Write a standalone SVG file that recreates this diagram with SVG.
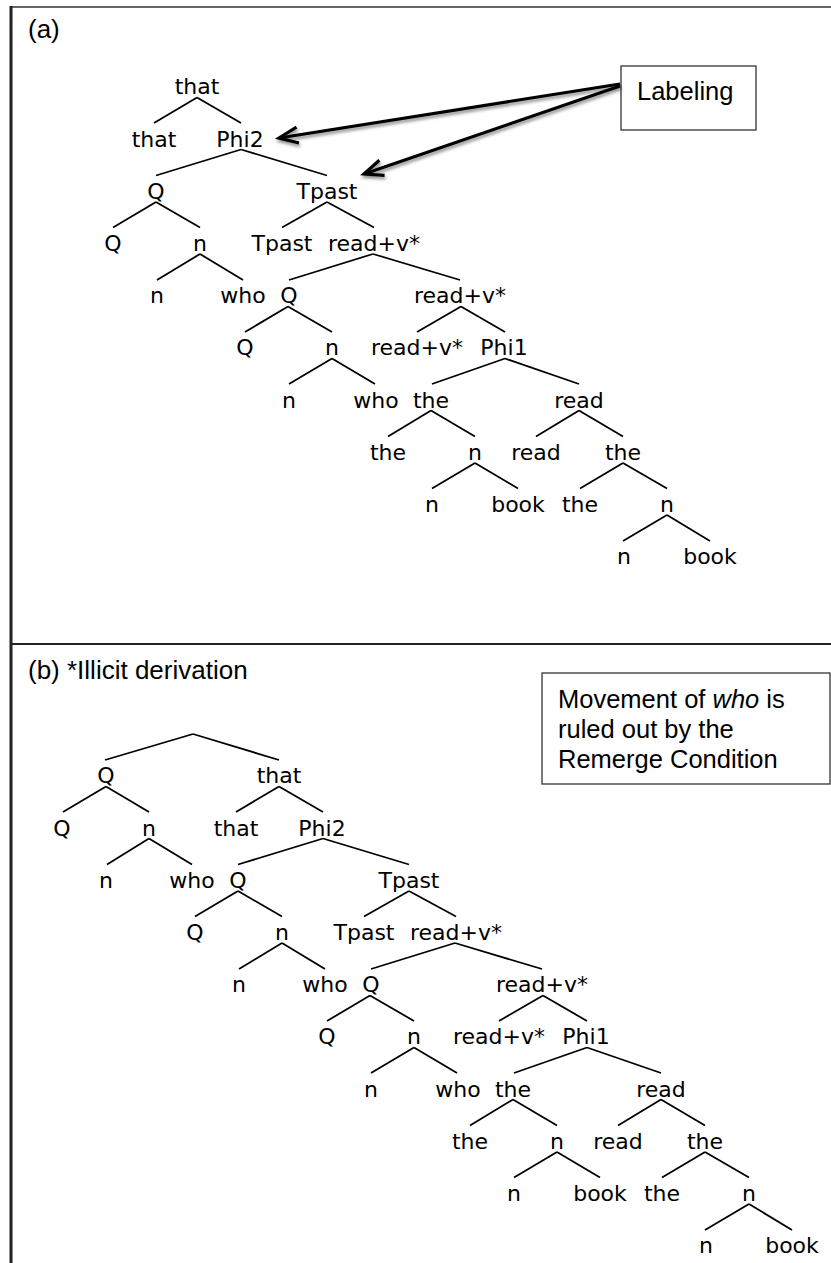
<svg xmlns="http://www.w3.org/2000/svg" width="831" height="1263" viewBox="0 0 831 1263">
<style>
.t{font-family:"DejaVu Sans",sans-serif;font-size:22px;text-anchor:middle;fill:#000}
.h{font-family:"Liberation Sans",Arial,sans-serif;font-size:26px;fill:#000}
.bx{font-family:"Liberation Sans",Arial,sans-serif;font-size:25.5px;fill:#000}
.e line{stroke:#000;stroke-width:1.8;fill:none}
.box{fill:#fff;stroke:#333;stroke-width:1.3}
.arr{stroke:#000;stroke-width:3;fill:none;marker-end:url(#ah)}
</style>
<defs>
<marker id="ah" markerUnits="userSpaceOnUse" markerWidth="40" markerHeight="40" viewBox="-30 -20 40 40" refX="0" refY="0" orient="auto" overflow="visible">
<path d="M-19,-8 L0,0 L-19,8" fill="none" stroke="#000" stroke-width="3.2"/>
</marker>
<filter id="sh" x="-10%" y="-30%" width="120%" height="160%">
<feDropShadow dx="1" dy="2.5" stdDeviation="1.5" flood-color="#000" flood-opacity="0.45"/>
</filter>
</defs>
<rect x="0" y="0" width="831" height="1263" fill="#fff"/>
<g id="frame">
<line x1="10" y1="7" x2="831" y2="7" stroke="#666" stroke-width="2"/>
<line x1="11" y1="6" x2="11" y2="1263" stroke="#222" stroke-width="3"/>
<line x1="11" y1="644" x2="831" y2="644" stroke="#222" stroke-width="2.2"/>
</g>
<text id="label-a" class="h" x="28" y="38">(a)</text>
<text id="label-b" class="h" x="28" y="679">(b) *Illicit derivation</text>

<g id="treeA">
<g id="treeA-edges" class="e">
<line x1="197" y1="97.5" x2="154" y2="123"/><line x1="197" y1="97.5" x2="241" y2="123"/>
<line x1="241" y1="149.5" x2="156" y2="175.5"/><line x1="241" y1="149.5" x2="327" y2="175.5"/>
<line x1="156" y1="202" x2="113" y2="227.5"/><line x1="156" y1="202" x2="200" y2="227.5"/>
<line x1="327" y1="202" x2="282" y2="227.5"/><line x1="327" y1="202" x2="374" y2="227.5"/>
<line x1="200" y1="254" x2="157" y2="280"/><line x1="200" y1="254" x2="243" y2="280"/>
<line x1="373" y1="254" x2="289" y2="280"/><line x1="373" y1="254" x2="460" y2="280"/>
<line x1="288" y1="306.5" x2="245" y2="332"/><line x1="288" y1="306.5" x2="332" y2="332"/>
<line x1="461" y1="306.5" x2="417" y2="332"/><line x1="461" y1="306.5" x2="505" y2="332"/>
<line x1="332" y1="358.5" x2="289" y2="384"/><line x1="332" y1="358.5" x2="375" y2="384"/>
<line x1="505" y1="358.5" x2="432" y2="384"/><line x1="505" y1="358.5" x2="579" y2="384"/>
<line x1="431" y1="410.5" x2="388" y2="436.5"/><line x1="431" y1="410.5" x2="475" y2="436.5"/>
<line x1="579" y1="410.5" x2="536" y2="436.5"/><line x1="579" y1="410.5" x2="623" y2="436.5"/>
<line x1="475" y1="463" x2="432" y2="488.5"/><line x1="475" y1="463" x2="518" y2="488.5"/>
<line x1="623" y1="463" x2="580" y2="488.5"/><line x1="623" y1="463" x2="667" y2="488.5"/>
<line x1="667" y1="515" x2="623" y2="541"/><line x1="667" y1="515" x2="710" y2="541"/>
</g>
<g id="a-n0"><text class="t" x="197" y="94">that</text></g>
<g id="a-n1"><text class="t" x="154" y="146.5">that</text></g>
<g id="a-n2"><text class="t" x="240" y="146.5">Phi2</text></g>
<g id="a-n3"><text class="t" x="156" y="198.5">Q</text></g>
<g id="a-n4"><text class="t" x="327" y="198.5">Tpast</text></g>
<g id="a-n5"><text class="t" x="113" y="250.5">Q</text></g>
<g id="a-n6"><text class="t" x="200" y="250.5">n</text></g>
<g id="a-n7"><text class="t" x="282" y="250.5">Tpast</text></g>
<g id="a-n8"><text class="t" x="374" y="250.5">read+v*</text></g>
<g id="a-n9"><text class="t" x="157" y="303">n</text></g>
<g id="a-n10"><text class="t" x="243" y="303">who</text></g>
<g id="a-n11"><text class="t" x="289" y="303">Q</text></g>
<g id="a-n12"><text class="t" x="460" y="303">read+v*</text></g>
<g id="a-n13"><text class="t" x="245" y="355">Q</text></g>
<g id="a-n14"><text class="t" x="332" y="355">n</text></g>
<g id="a-n15"><text class="t" x="417" y="355">read+v*</text></g>
<g id="a-n16"><text class="t" x="504" y="355">Phi1</text></g>
<g id="a-n17"><text class="t" x="289" y="407.5">n</text></g>
<g id="a-n18"><text class="t" x="376" y="407.5">who</text></g>
<g id="a-n19"><text class="t" x="431" y="407.5">the</text></g>
<g id="a-n20"><text class="t" x="579" y="407.5">read</text></g>
<g id="a-n21"><text class="t" x="388" y="459.5">the</text></g>
<g id="a-n22"><text class="t" x="475" y="459.5">n</text></g>
<g id="a-n23"><text class="t" x="536" y="459.5">read</text></g>
<g id="a-n24"><text class="t" x="623" y="459.5">the</text></g>
<g id="a-n25"><text class="t" x="432" y="511.5">n</text></g>
<g id="a-n26"><text class="t" x="518" y="511.5">book</text></g>
<g id="a-n27"><text class="t" x="580" y="511.5">the</text></g>
<g id="a-n28"><text class="t" x="667" y="511.5">n</text></g>
<g id="a-n29"><text class="t" x="624" y="564">n</text></g>
<g id="a-n30"><text class="t" x="710" y="564">book</text></g>
</g>

<g id="labeling">
<rect class="box" x="621" y="66" width="135" height="64"/>
<text class="bx" x="637" y="100">Labeling</text>
</g>
<g id="arrows" filter="url(#sh)">
<line class="arr" x1="620" y1="84" x2="279" y2="138"/>
<line class="arr" x1="620" y1="86" x2="364" y2="174"/>
</g>

<g id="treeB" transform="translate(82,689)">
<g id="treeB-edges" class="e">
<line x1="111" y1="45" x2="23" y2="71"/><line x1="111" y1="45" x2="197" y2="71"/>
<line x1="24" y1="97.5" x2="-19" y2="123"/><line x1="24" y1="97.5" x2="67" y2="123"/>
<line x1="67" y1="149.5" x2="25" y2="175.5"/><line x1="67" y1="149.5" x2="110" y2="175.5"/>
<line x1="197" y1="97.5" x2="154" y2="123"/><line x1="197" y1="97.5" x2="241" y2="123"/>
<line x1="241" y1="149.5" x2="156" y2="175.5"/><line x1="241" y1="149.5" x2="327" y2="175.5"/>
<line x1="156" y1="202" x2="113" y2="227.5"/><line x1="156" y1="202" x2="200" y2="227.5"/>
<line x1="327" y1="202" x2="282" y2="227.5"/><line x1="327" y1="202" x2="374" y2="227.5"/>
<line x1="200" y1="254" x2="157" y2="280"/><line x1="200" y1="254" x2="243" y2="280"/>
<line x1="373" y1="254" x2="289" y2="280"/><line x1="373" y1="254" x2="460" y2="280"/>
<line x1="288" y1="306.5" x2="245" y2="332"/><line x1="288" y1="306.5" x2="332" y2="332"/>
<line x1="461" y1="306.5" x2="417" y2="332"/><line x1="461" y1="306.5" x2="505" y2="332"/>
<line x1="332" y1="358.5" x2="289" y2="384"/><line x1="332" y1="358.5" x2="375" y2="384"/>
<line x1="505" y1="358.5" x2="432" y2="384"/><line x1="505" y1="358.5" x2="579" y2="384"/>
<line x1="431" y1="410.5" x2="388" y2="436.5"/><line x1="431" y1="410.5" x2="475" y2="436.5"/>
<line x1="579" y1="410.5" x2="536" y2="436.5"/><line x1="579" y1="410.5" x2="623" y2="436.5"/>
<line x1="475" y1="463" x2="432" y2="488.5"/><line x1="475" y1="463" x2="518" y2="488.5"/>
<line x1="623" y1="463" x2="580" y2="488.5"/><line x1="623" y1="463" x2="667" y2="488.5"/>
<line x1="667" y1="515" x2="623" y2="541"/><line x1="667" y1="515" x2="710" y2="541"/>
</g>
<g id="b-q0"><text class="t" x="24" y="94">Q</text></g>
<g id="b-q1"><text class="t" x="-20" y="146.5">Q</text></g>
<g id="b-q2"><text class="t" x="67" y="146.5">n</text></g>
<g id="b-q3"><text class="t" x="24" y="198.5">n</text></g>
<g id="b-q4"><text class="t" x="110" y="198.5">who</text></g>
<g id="b-n0"><text class="t" x="197" y="94">that</text></g>
<g id="b-n1"><text class="t" x="154" y="146.5">that</text></g>
<g id="b-n2"><text class="t" x="240" y="146.5">Phi2</text></g>
<g id="b-n3"><text class="t" x="156" y="198.5">Q</text></g>
<g id="b-n4"><text class="t" x="327" y="198.5">Tpast</text></g>
<g id="b-n5"><text class="t" x="113" y="250.5">Q</text></g>
<g id="b-n6"><text class="t" x="200" y="250.5">n</text></g>
<g id="b-n7"><text class="t" x="282" y="250.5">Tpast</text></g>
<g id="b-n8"><text class="t" x="374" y="250.5">read+v*</text></g>
<g id="b-n9"><text class="t" x="157" y="303">n</text></g>
<g id="b-n10"><text class="t" x="243" y="303">who</text></g>
<g id="b-n11"><text class="t" x="289" y="303">Q</text></g>
<g id="b-n12"><text class="t" x="460" y="303">read+v*</text></g>
<g id="b-n13"><text class="t" x="245" y="355">Q</text></g>
<g id="b-n14"><text class="t" x="332" y="355">n</text></g>
<g id="b-n15"><text class="t" x="417" y="355">read+v*</text></g>
<g id="b-n16"><text class="t" x="504" y="355">Phi1</text></g>
<g id="b-n17"><text class="t" x="289" y="407.5">n</text></g>
<g id="b-n18"><text class="t" x="376" y="407.5">who</text></g>
<g id="b-n19"><text class="t" x="431" y="407.5">the</text></g>
<g id="b-n20"><text class="t" x="579" y="407.5">read</text></g>
<g id="b-n21"><text class="t" x="388" y="459.5">the</text></g>
<g id="b-n22"><text class="t" x="475" y="459.5">n</text></g>
<g id="b-n23"><text class="t" x="536" y="459.5">read</text></g>
<g id="b-n24"><text class="t" x="623" y="459.5">the</text></g>
<g id="b-n25"><text class="t" x="432" y="511.5">n</text></g>
<g id="b-n26"><text class="t" x="518" y="511.5">book</text></g>
<g id="b-n27"><text class="t" x="580" y="511.5">the</text></g>
<g id="b-n28"><text class="t" x="667" y="511.5">n</text></g>
<g id="b-n29"><text class="t" x="624" y="564">n</text></g>
<g id="b-n30"><text class="t" x="710" y="564">book</text></g>
</g>

<g id="remerge-note">
<rect class="box" x="542" y="673" width="288" height="111"/>
<text class="bx" x="558" y="708">Movement of <tspan font-style="italic">who</tspan> is</text>
<text class="bx" x="558" y="738">ruled out by the</text>
<text class="bx" x="558" y="768">Remerge Condition</text>
</g>
</svg>
